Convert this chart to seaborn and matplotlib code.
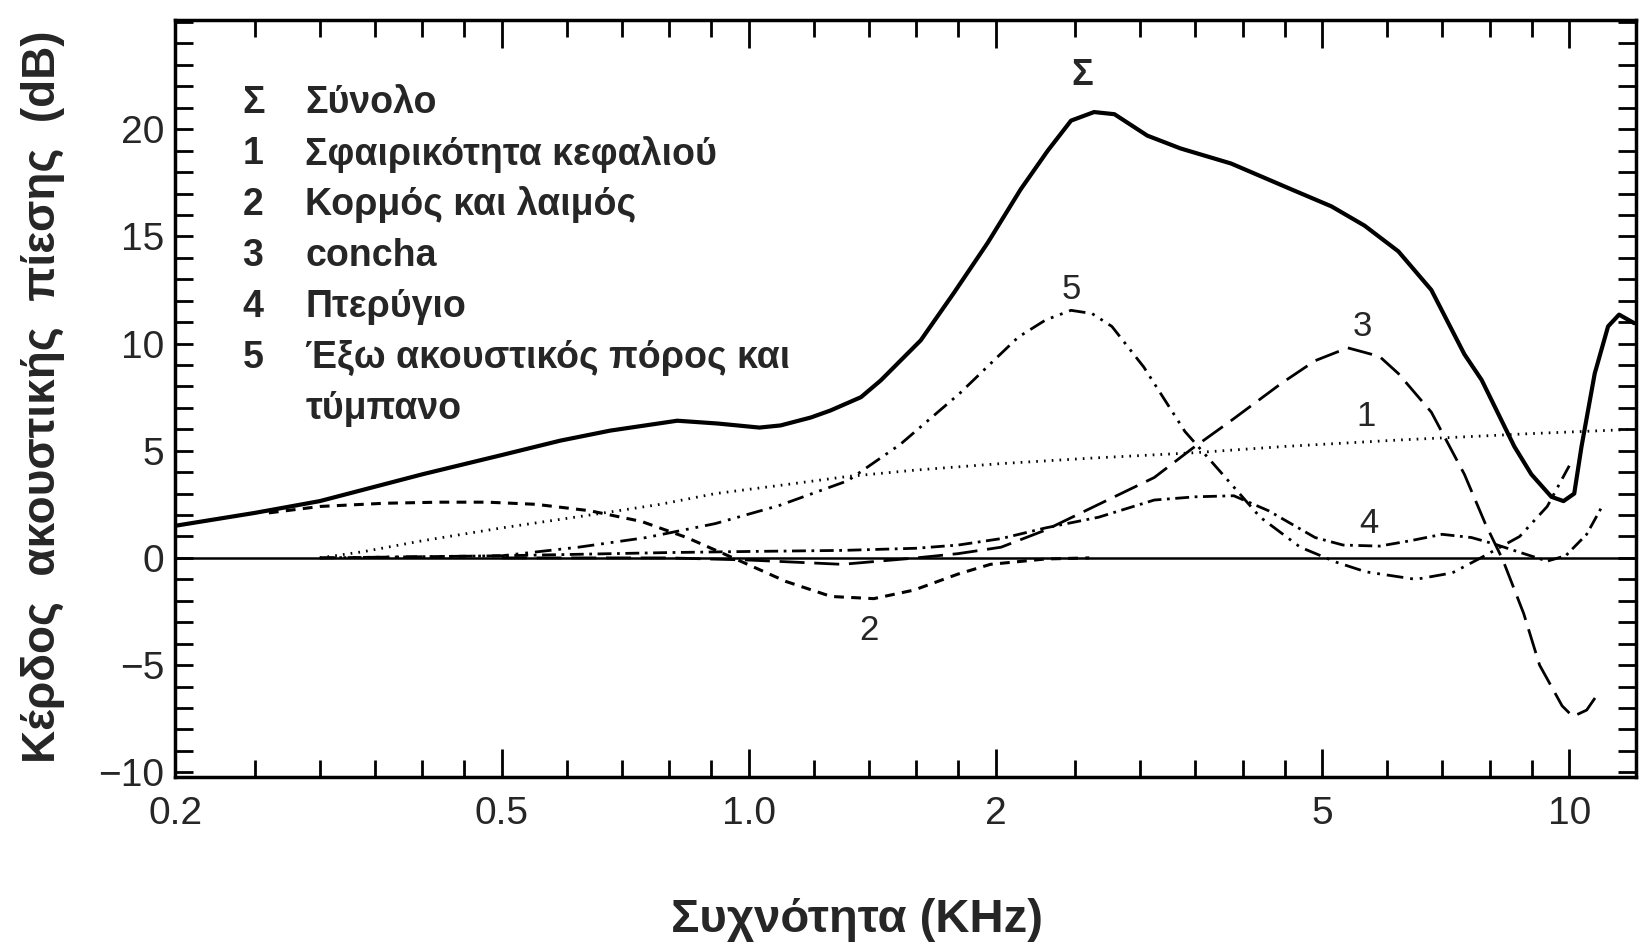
import numpy as np
import pandas as pd
import matplotlib
matplotlib.use("Agg")
import matplotlib.pyplot as plt
import matplotlib.ticker as mticker
import seaborn as sns

# ---------------------------------------------------------
# data (frequency in kHz, gain in dB)
# ---------------------------------------------------------

f_total = [0.2, 0.25, 0.3, 0.4, 0.5, 0.589, 0.678, 0.818, 0.916, 1.03, 1.093,
           1.19, 1.258, 1.37, 1.448, 1.62, 1.777, 1.955, 2.145, 2.314, 2.47,
           2.635, 2.79, 3.06, 3.36, 3.87, 4.58, 5.13, 5.63, 6.19, 6.79, 7.45,
           7.82, 8.57, 8.99, 9.51, 9.84, 10.14, 10.35, 10.74, 11.15, 11.5, 12.0]
db_total = [1.5, 2.1, 2.65, 3.9, 4.8, 5.47, 5.94, 6.4, 6.27, 6.08, 6.18,
            6.55, 6.88, 7.5, 8.28, 10.15, 12.35, 14.7, 17.2, 19.0, 20.4,
            20.8, 20.7, 19.7, 19.1, 18.4, 17.2, 16.4, 15.5, 14.3, 12.5, 9.5,
            8.3, 5.2, 3.9, 2.85, 2.65, 3.0, 5.2, 8.6, 10.8, 11.35, 10.95]

f_head = [0.3, 0.34, 0.4, 0.5, 0.64, 0.78, 0.91, 1.1, 1.32, 1.6, 2.03, 2.6,
          3.47, 4.5, 6.2, 9.0, 12.0]
db_head = [0.0, 0.3, 0.8, 1.4, 2.0, 2.5, 3.0, 3.4, 3.8, 4.1, 4.4, 4.65,
           4.9, 5.2, 5.5, 5.8, 6.0]

f_torso = [0.26, 0.3, 0.36, 0.42, 0.48, 0.55, 0.64, 0.74, 0.84, 0.97, 1.11,
           1.26, 1.42, 1.59, 1.8, 1.97, 2.3, 2.6]
db_torso = [2.1, 2.4, 2.55, 2.6, 2.6, 2.5, 2.2, 1.7, 0.95, -0.1, -1.1,
            -1.8, -1.9, -1.5, -0.75, -0.3, -0.05, 0.0]

f_concha = [0.5, 0.8, 1.0, 1.3, 1.6, 1.8, 2.03, 2.3, 2.67, 3.12, 3.47, 3.87,
            4.46, 4.9, 5.37, 5.87, 6.19, 6.79, 7.45, 7.9, 8.3, 8.8, 9.2, 9.8,
            10.1, 10.5, 10.9]
db_concha = [0.0, 0.0, -0.1, -0.3, 0.0, 0.2, 0.5, 1.3, 2.5, 3.75, 5.1, 6.4,
             8.15, 9.2, 9.8, 9.4, 8.6, 6.8, 3.9, 1.6, -0.1, -2.6, -5.0, -6.9,
             -7.4, -7.1, -6.2]

f_pinna = [0.3, 0.5, 0.8, 1.0, 1.3, 1.6, 1.8, 2.03, 2.3, 2.67, 3.12, 3.5,
           3.9, 4.3, 4.9, 5.3, 5.87, 6.4, 7.0, 7.6, 8.1, 8.8, 9.4, 9.9, 10.5,
           11.0]
db_pinna = [0.0, 0.1, 0.25, 0.3, 0.35, 0.45, 0.6, 0.9, 1.4, 1.9, 2.7, 2.85,
            2.9, 2.2, 0.95, 0.6, 0.55, 0.8, 1.1, 0.95, 0.65, 0.2, -0.15, 0.1,
            1.1, 2.5]

f_canal = [0.3, 0.5, 0.62, 0.75, 0.91, 1.09, 1.32, 1.53, 1.81, 2.0, 2.13,
           2.3, 2.47, 2.62, 2.77, 3.03, 3.4, 3.8, 4.2, 4.7, 5.2, 5.65, 6.5,
           7.2, 7.8, 8.7, 9.4, 10.0]
db_canal = [0.0, 0.1, 0.5, 0.95, 1.6, 2.45, 3.6, 5.3, 7.7, 9.3, 10.3,
            11.1, 11.55, 11.4, 10.8, 8.9, 5.9, 3.8, 1.9, 0.5, -0.2, -0.65, -1.0,
            -0.7, 0.0, 1.0, 2.4, 4.3]

legend_keys = ['Σ', '1', '2', '3', '4', '5', '']
legend_texts = ['Σύνολο', 'Σφαιρικότητα κεφαλιού', 'Κορμός και λαιμός',
                'concha', 'Πτερύγιο', 'Έξω ακουστικός πόρος και', 'τύμπανο']

x_ticks = [0.2, 0.5, 1.0, 2, 5, 10]
x_tick_labels = ['0.2', '0.5', '1.0', '2', '5', '10']
x_minor = [0.25, 0.3, 0.35, 0.4, 0.45, 0.6, 0.7, 0.8, 0.9, 1.2, 1.4, 1.6,
           1.8, 2.5, 3, 3.5, 4, 4.5, 6, 7, 8, 9]
y_ticks = [-10, -5, 0, 5, 10, 15, 20]
y_tick_labels = ['\u221210', '\u22125', '0', '5', '10', '15', '20']

# ---------------------------------------------------------
# style
# ---------------------------------------------------------

sns.set_style("ticks")
plt.rcParams['font.family'] = ['Liberation Sans', 'DejaVu Sans']

fig = plt.figure(figsize=(16.39, 9.47), dpi=100)
ax = fig.add_axes([0.107, 0.180, 0.891, 0.799])

curves = [
    (f_total, db_total, '-', 3.0),
    (f_head, db_head, (0, (0.6, 2.2)), 2.0),
    (f_torso, db_torso, (0, (3.2, 2.4)), 2.2),
    (f_concha, db_concha, (0, (9, 3.5)), 2.0),
    (f_pinna, db_pinna, (0, (5, 2, 1, 2)), 2.0),
    (f_canal, db_canal, (0, (6, 2.5, 1, 2.5, 1, 2.5)), 2.0),
]

for fx, dy, ls, lw in curves:
    sns.lineplot(x=fx, y=dy, ax=ax, color='black', linestyle=ls,
                 linewidth=lw, estimator=None)

ax.axhline(0, color='black', linewidth=1.8)

ax.set_xscale('log')
ax.set_xlim(0.2, 12.05)
ax.set_ylim(-10.2, 25.1)

ax.xaxis.set_major_locator(mticker.FixedLocator(x_ticks))
ax.xaxis.set_major_formatter(mticker.FixedFormatter(x_tick_labels))
ax.xaxis.set_minor_locator(mticker.FixedLocator(x_minor))
ax.xaxis.set_minor_formatter(mticker.NullFormatter())
ax.yaxis.set_major_locator(mticker.FixedLocator(y_ticks))
ax.yaxis.set_major_formatter(mticker.FixedFormatter(y_tick_labels))
ax.yaxis.set_minor_locator(mticker.MultipleLocator(1))

ax.tick_params(axis='both', which='both', direction='in', top=True,
               right=True, width=2.0, color='black')
ax.tick_params(axis='x', which='major', length=20, labelsize=28, pad=14)
ax.tick_params(axis='x', which='minor', length=12)
ax.tick_params(axis='y', which='both', length=13)
ax.tick_params(axis='y', which='major', labelsize=28, pad=8)

for sp in ax.spines.values():
    sp.set_linewidth(2.5)
    sp.set_color('black')

ax.set_xlabel('')
ax.set_ylabel('')

# legend block written as text
for i, (k, t) in enumerate(zip(legend_keys, legend_texts)):
    yy = 0.890 - i * 0.0673
    ax.text(0.046, yy, k, transform=ax.transAxes, fontsize=27,
            fontweight='bold', va='center', ha='left')
    ax.text(0.089, yy, t, transform=ax.transAxes, fontsize=27,
            fontweight='bold', va='center', ha='left')

# curve labels
ax.text(2.55, 22.5, 'Σ', fontsize=26, fontweight='heavy', ha='center', va='center')
ax.text(2.47, 12.5, '5', fontsize=25, ha='center', va='center')
ax.text(5.6, 10.8, '3', fontsize=25, ha='center', va='center')
ax.text(5.65, 6.6, '1', fontsize=25, ha='center', va='center')
ax.text(5.7, 1.6, '4', fontsize=25, ha='center', va='center')
ax.text(1.40, -3.4, '2', fontsize=25, ha='center', va='center')

fig.text(0.026, 0.581, 'Κέρδος  ακουστικής  πίεσης  (dB)', rotation=90,
         fontsize=33, fontweight='bold', ha='center', va='center')
fig.text(0.523, 0.029, 'Συχνότητα (KHz)', fontsize=34, fontweight='bold',
         ha='center', va='center')

fig.savefig('out.png', dpi=100, facecolor='white')
